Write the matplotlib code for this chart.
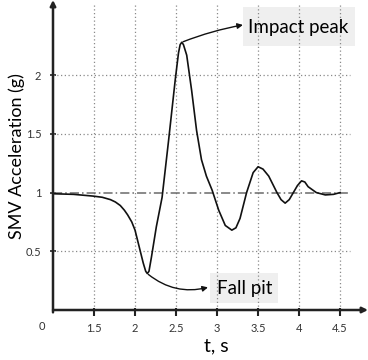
import matplotlib
matplotlib.use("Agg")
import matplotlib.pyplot as plt
from matplotlib.patches import Rectangle

plt.rcParams['font.family'] = ['Lato', 'DejaVu Sans']

# curve (t in s, SMV in g)
t = [1.00, 1.25, 1.49, 1.60, 1.70, 1.76, 1.82, 1.87, 1.91, 1.96, 2.00, 2.05, 2.10,
     2.13, 2.15, 2.17, 2.20, 2.26, 2.33, 2.41, 2.49, 2.53, 2.55, 2.57, 2.59, 2.63,
     2.69, 2.75, 2.81, 2.87, 2.94, 3.02, 3.10, 3.18, 3.23, 3.28, 3.36, 3.44, 3.50,
     3.56, 3.63, 3.73, 3.78, 3.83, 3.88, 3.93, 3.98, 4.03, 4.07, 4.11, 4.21, 4.32,
     4.42, 4.50]
smv = [0.99, 0.985, 0.97, 0.96, 0.94, 0.92, 0.89, 0.85, 0.81, 0.75, 0.68, 0.54, 0.40,
       0.33, 0.31, 0.33, 0.45, 0.71, 0.96, 1.45, 1.96, 2.19, 2.26, 2.28, 2.26, 2.17,
       1.87, 1.53, 1.28, 1.14, 1.02, 0.85, 0.72, 0.68, 0.70, 0.78, 1.00, 1.17, 1.22,
       1.20, 1.14, 1.00, 0.94, 0.91, 0.94, 1.00, 1.06, 1.10, 1.09, 1.05, 1.00, 0.98,
       0.985, 1.00]

x_ticks = [1.5, 2.0, 2.5, 3.0, 3.5, 4.0, 4.5]
x_labels = ['1.5', '2', '2.5', '3', '3.5', '4', '4.5']
y_ticks = [0.5, 1.0, 1.5, 2.0]
y_labels = ['0.5', '1', '1.5', '2']
peak = (2.57, 2.28)
pit = (2.15, 0.31)

fig = plt.figure(figsize=(3.68, 3.60), dpi=100)
ax = fig.add_axes([53/368, 48/360, 315/368, 312/360])
ax.set_xlim(1.0, 4.84)
ax.set_ylim(-0.017, 2.64)

for s in ax.spines.values():
    s.set_visible(False)

grid_c = '#8a8a8a'
ax.vlines(x_ticks, 0, 2.6, colors=grid_c, linestyles=(0, (1, 2)), linewidth=0.9)
ax.hlines([0.5, 1.5, 2.0], 1.0, 4.62, colors=grid_c, linestyles=(0, (1, 2)), linewidth=0.9)
ax.hlines(1.0, 1.0, 4.62, colors='#6a6a6a', linestyles=(0, (6, 2, 1, 2)), linewidth=1.1)

ax.plot(t, smv, color='#111111', linewidth=1.2)

# axes with arrows
ax.annotate('', xy=(4.84, 0), xytext=(1.0, 0), xycoords='data',
            arrowprops=dict(arrowstyle='-|>', color='#222222', lw=1.8, mutation_scale=8,
                            shrinkA=0, shrinkB=0), annotation_clip=False)
ax.annotate('', xy=(1.0, 2.64), xytext=(1.0, -0.02), xycoords='data',
            arrowprops=dict(arrowstyle='-|>', color='#222222', lw=1.8, mutation_scale=8,
                            shrinkA=0, shrinkB=0), annotation_clip=False)

ax.set_xticks(x_ticks)
ax.set_xticklabels(x_labels)
ax.set_yticks(y_ticks)
ax.set_yticklabels(y_labels)
ax.tick_params(axis='x', direction='inout', length=6, width=1.5, color='#222222',
               labelsize=8, labelcolor='#333333', pad=5)
ax.tick_params(axis='y', direction='inout', length=5, width=1.2, color='#222222',
               labelsize=8, labelcolor='#333333', pad=6)
ax.text(0.86, -0.14, '0', fontsize=8, color='#333333', ha='center', va='center')

ax.set_xlabel('t, s', fontsize=14, labelpad=0)
ax.xaxis.set_label_coords(0.52, -0.08)
ax.set_ylabel('SMV Acceleration (g)', fontsize=13)
ax.yaxis.set_label_coords(-0.09, 0.5)

# grey label boxes (axes fraction)
ax.add_patch(Rectangle((0.603, 0.8535), 0.356, 0.125, transform=ax.transAxes,
                       facecolor='#efefef', edgecolor='none', clip_on=False))
ax.text(0.619, 0.912, 'Impact peak', transform=ax.transAxes, fontsize=13.5,
        va='center', ha='left')
ax.add_patch(Rectangle((0.498, 0.030), 0.217, 0.094, transform=ax.transAxes,
                       facecolor='#efefef', edgecolor='none', clip_on=False))
ax.text(0.52, 0.075, 'Fall pit', transform=ax.transAxes, fontsize=13.5,
        va='center', ha='left')

arrow = dict(arrowstyle='-|>', color='#111111', lw=1.0, mutation_scale=8,
             shrinkA=1, shrinkB=0)
ax.annotate('', xy=(0.603, 0.92), xycoords='axes fraction', xytext=peak,
            textcoords='data', arrowprops=dict(arrow, connectionstyle='arc3,rad=-0.05'))
ax.annotate('', xy=(0.492, 0.079), xycoords='axes fraction', xytext=pit,
            textcoords='data', arrowprops=dict(arrow, connectionstyle='arc3,rad=0.25'))

fig.savefig('out.png', dpi=100)
